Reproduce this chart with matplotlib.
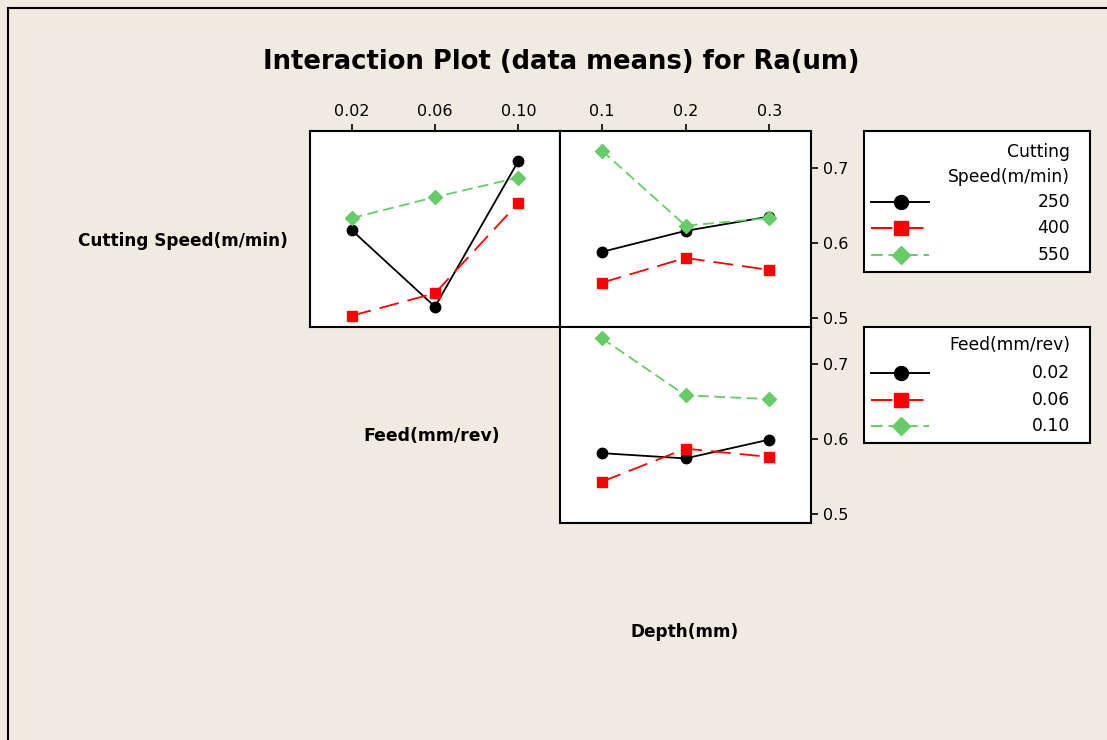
import matplotlib.pyplot as plt
from matplotlib.lines import Line2D

# level labels
feed_levels = ['0.02', '0.06', '0.10']
depth_levels = ['0.1', '0.2', '0.3']
speed_levels = ['250', '400', '550']

# means of Ra(um): cutting speed traces vs feed
speed_vs_feed = [
    [0.617, 0.515, 0.709],
    [0.503, 0.533, 0.653],
    [0.633, 0.661, 0.687],
]
# cutting speed traces vs depth
speed_vs_depth = [
    [0.588, 0.616, 0.635],
    [0.547, 0.580, 0.564],
    [0.723, 0.623, 0.633],
]
# feed traces vs depth
feed_vs_depth = [
    [0.581, 0.574, 0.599],
    [0.543, 0.587, 0.576],
    [0.734, 0.658, 0.653],
]

y_ticks = [0.5, 0.6, 0.7]

BG = '#EFEBE0'
W, H = 1107, 740
styles = [
    dict(color='black', linestyle='-', marker='o', markersize=7.5),
    dict(color='#FF0000', linestyle=(0, (11, 5)), marker='s', markersize=7),
    dict(color='#66CC66', linestyle=(0, (6, 3)), marker='D', markersize=7),
]


def px_axes(fig, x0, y0, x1, y1):
    # pixel box (top-left origin) -> figure axes
    return fig.add_axes([x0 / W, 1 - y1 / H, (x1 - x0) / W, (y1 - y0) / H])


def draw_panel(ax, series, xlabels, top_ticks, right_ticks):
    ax.set_facecolor('white')
    xs = range(len(xlabels))
    for vals, st in zip(series, styles):
        ax.plot(xs, vals, linewidth=1.3, **st)
    ax.set_xlim(-0.5, 2.5)
    ax.set_ylim(0.488, 0.749)
    for sp in ax.spines.values():
        sp.set_linewidth(1.5)
    ax.tick_params(direction='out', length=5, width=1.2, labelsize=11.5)
    if top_ticks:
        ax.xaxis.tick_top()
        ax.set_xticks(list(xs))
        ax.set_xticklabels(xlabels)
    else:
        ax.set_xticks([])
    if right_ticks:
        ax.yaxis.tick_right()
        ax.set_yticks(y_ticks)
        ax.set_yticklabels([str(v) for v in y_ticks])
    else:
        ax.set_yticks([])


def draw_legend(fig, box, title_lines, labels, title_y, entry_y):
    x0, y0, x1, y1 = box
    ax = px_axes(fig, x0, y0, x1, y1)
    ax.set_facecolor('white')
    ax.set_xlim(x0, x1)
    ax.set_ylim(y1, y0)
    ax.set_xticks([])
    ax.set_yticks([])
    for sp in ax.spines.values():
        sp.set_linewidth(1.5)
    for t, ty in zip(title_lines, title_y):
        ax.text(1070, ty, t, ha='right', va='center', fontsize=12.3)
    for lab, st, ey in zip(labels, styles, entry_y):
        ax.add_line(Line2D([871, 929], [ey, ey], color=st['color'],
                           linestyle=st['linestyle'], linewidth=1.4))
        ax.plot([901], [ey], linestyle='none', marker=st['marker'],
                color=st['color'], markersize=st['markersize'] + 2.5)
        ax.text(1070, ey, lab, ha='right', va='center', fontsize=12.3)


fig = plt.figure(figsize=(11.07, 7.40), dpi=100, facecolor=BG)

ax1 = px_axes(fig, 310, 131, 560, 327)
draw_panel(ax1, speed_vs_feed, feed_levels, True, False)
ax2 = px_axes(fig, 560, 131, 811, 327)
draw_panel(ax2, speed_vs_depth, depth_levels, True, True)
ax3 = px_axes(fig, 560, 327, 811, 523)
draw_panel(ax3, feed_vs_depth, depth_levels, False, True)

draw_legend(fig, (864, 131, 1090, 272), ['Cutting', 'Speed(m/min)'],
            speed_levels, [152, 177], [202, 228, 255])
draw_legend(fig, (864, 327, 1090, 443), ['Feed(mm/rev)'],
            feed_levels, [345], [373, 400, 426])

fig.text(561 / W, 1 - 62 / H, 'Interaction Plot (data means) for Ra(um)',
         ha='center', va='center', fontsize=18.6, fontweight='bold')
fig.text(183 / W, 1 - 241 / H, 'Cutting Speed(m/min)', ha='center',
         va='center', fontsize=12.2, fontweight='bold')
fig.text(432 / W, 1 - 436 / H, 'Feed(mm/rev)', ha='center',
         va='center', fontsize=12.4, fontweight='bold')
fig.text(685 / W, 1 - 632 / H, 'Depth(mm)', ha='center',
         va='center', fontsize=12.2, fontweight='bold')

# outer frame (top and left edges)
fig.add_artist(Line2D([8 / W, 1], [1 - 8 / H, 1 - 8 / H], color='black',
                      linewidth=1.5, transform=fig.transFigure))
fig.add_artist(Line2D([8 / W, 8 / W], [0, 1 - 8 / H], color='black',
                      linewidth=1.5, transform=fig.transFigure))

fig.savefig('out.png', dpi=100, facecolor=BG)
